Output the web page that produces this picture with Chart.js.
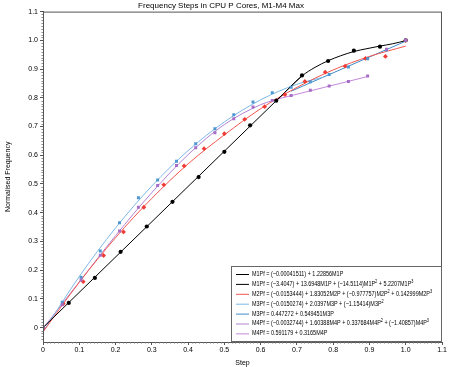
<!DOCTYPE html>
<html>
<head>
<meta charset="utf-8">
<script src="https://cdn.jsdelivr.net/npm/chart.js@4"></script>
<style>
  html, body { margin: 0; padding: 0; background: #fff; }
  #wrap { width: 449px; height: 367px; }
</style>
</head>
<body>
<div id="wrap"><canvas id="c"></canvas></div>
<script>
/* Frequency steps in CPU P cores, M1–M4 Max: measured steps + fitted curves. */

const FONT = "'Liberation Sans', Arial, sans-serif";

// measured steps (x = step / steps, y = freq / max freq)
const m1X = [0, 0.071, 0.143, 0.214, 0.286, 0.357, 0.429, 0.5, 0.571, 0.643, 0.714, 0.786, 0.857, 0.929, 1.0];
const m1Y = [0, 0.086, 0.173, 0.264, 0.352, 0.438, 0.524, 0.612, 0.704, 0.790, 0.878, 0.928, 0.964, 0.978, 1.0];

const m2X = [0, 0.056, 0.111, 0.167, 0.222, 0.278, 0.333, 0.389, 0.444, 0.5, 0.556, 0.611, 0.667, 0.722, 0.778, 0.833, 0.889, 0.944, 1.0];
const m2Y = [0, 0.083, 0.160, 0.251, 0.333, 0.419, 0.497, 0.563, 0.623, 0.675, 0.725, 0.769, 0.811, 0.857, 0.889, 0.910, 0.937, 0.944, 1.0];

const m3X = [0, 0.053, 0.105, 0.158, 0.211, 0.263, 0.316, 0.368, 0.421, 0.474, 0.526, 0.579, 0.632, 0.684, 0.737, 0.789, 0.842, 0.895, 0.947, 1.0];
const m3Y = [0, 0.088, 0.175, 0.267, 0.365, 0.452, 0.514, 0.579, 0.640, 0.692, 0.741, 0.785, 0.818, 0.837, 0.856, 0.881, 0.907, 0.936, 0.966, 1.0];

const m4X = m3X;
const m4Y = [0, 0.080, 0.166, 0.252, 0.336, 0.419, 0.495, 0.564, 0.626, 0.678, 0.727, 0.768, 0.791, 0.808, 0.826, 0.841, 0.857, 0.876, 0.969, 1.0];

// fitted curves
const m1LinX = [0, 0.714];
const m1LinY = [0, 0.877];
const m1CubX = [0.64, 0.714, 0.75, 0.786, 0.82, 0.857, 0.893, 0.929, 0.964, 1.0];
const m1CubY = [0.785, 0.876, 0.906, 0.929, 0.946, 0.961, 0.971, 0.980, 0.988, 0.999];
const m2FitX = [0, 0.1, 0.2, 0.3, 0.4, 0.5, 0.6, 0.7, 0.8, 0.9, 1.0];
const m2FitY = [-0.015, 0.158, 0.313, 0.450, 0.570, 0.671, 0.762, 0.836, 0.897, 0.944, 0.980];
const m3QuadX = [0, 0.1, 0.2, 0.3, 0.4, 0.5, 0.6, 0.7, 0.774];
const m3QuadY = [-0.015, 0.178, 0.347, 0.493, 0.616, 0.716, 0.793, 0.847, 0.872];
const m3LinX = [0.684, 1.0];
const m3LinY = [0.823, 0.997];
const m4CubX = [0, 0.1, 0.2, 0.3, 0.4, 0.5, 0.6, 0.632];
const m4CubY = [-0.003, 0.159, 0.320, 0.470, 0.602, 0.707, 0.776, 0.790];
const m4LinX = [0.632, 0.895];
const m4LinY = [0.791, 0.874];

// "^n" marks a superscript
const fitLabels = [
  "M1Pf = (\u22120.00041511) + 1.22856M1P",
  "M1Pf = (\u22123.4047) + 13.6948M1P + (\u221214.5114)M1P^2 + 5.2207M1P^3",
  "M2Pf = (\u22120.0153444) + 1.83052M2P + (\u22120.977757)M2P^2 + 0.142999M2P^3",
  "M3Pf = (\u22120.0150274) + 2.0397M3P + (\u22121.15414)M3P^2",
  "M3Pf = 0.447272 + 0.549451M3P",
  "M4Pf = (\u22120.0032744) + 1.60388M4P + 0.337684M4P^2 + (\u22121.40857)M4P^3",
  "M4Pf = 0.591179 + 0.3165M4P",
];

const xTicks = [0, 0.1, 0.2, 0.3, 0.4, 0.5, 0.6, 0.7, 0.8, 0.9, 1.0, 1.1];
const yTicks = [0, 0.1, 0.2, 0.3, 0.4, 0.5, 0.6, 0.7, 0.8, 0.9, 1.0, 1.1];

const C = {
  m1: "#000000",
  m2: "#ef3b36", m2line: "#f2564f",
  m3: "#4d97d1", m3quad: "#7db8e4", m3lin: "#3e8bc8",
  m4: "#a56dc6", m4cub: "#b183d2", m4lin: "#c487dc",
};

const pts = (xs, ys) => xs.map((x, i) => ({ x, y: ys[i] }));

function scatter(xs, ys, color, style, r) {
  return { type: "scatter", data: pts(xs, ys), showLine: false, pointStyle: style,
           pointRadius: r, pointBackgroundColor: color, pointBorderColor: color,
           pointBorderWidth: 0, fitLegend: false };
}
function fit(xs, ys, color, label) {
  return { type: "line", label, data: pts(xs, ys), borderColor: color, borderWidth: 1,
           pointRadius: 0, tension: 0, cubicInterpolationMode: "monotone", fill: false,
           fitLegend: true };
}

// text with ^n superscripts; returns width, draws if draw=true
function richText(ctx, s, x, y, size, draw) {
  let w = 0;
  const parts = s.split(/(\^\d)/);
  for (const p of parts) {
    if (!p) continue;
    const sup = p[0] === "^";
    const t = sup ? p.slice(1) : p;
    ctx.font = `${sup ? size * 0.7 : size}px ${FONT}`;
    if (draw) ctx.fillText(t, x + w, sup ? y - size * 0.35 : y);
    w += ctx.measureText(t).width;
  }
  return w;
}

/* ---------------- plugins: frame, minor ticks, legend box ---------------- */
const framePlugin = {
  id: "frame",
  afterDraw(chart) {
    const { ctx, chartArea: a, scales: { x, y } } = chart;
    ctx.save();
    ctx.strokeStyle = "#555"; ctx.lineWidth = 1;
    ctx.strokeRect(a.left + 0.5, a.top + 0.5, a.right - a.left - 1, a.bottom - a.top);
    // minor ticks every 0.01
    ctx.strokeStyle = "#777"; ctx.lineWidth = 0.8;
    ctx.beginPath();
    for (let i = 1; i < 110; i++) {
      if (i % 10 === 0) continue;
      const px = Math.round(x.getPixelForValue(i / 100)) + 0.5;
      ctx.moveTo(px, a.bottom); ctx.lineTo(px, a.bottom + 1.6);
    }
    for (let i = -4; i < 110; i++) {
      if (i % 10 === 0) continue;
      const py = Math.round(y.getPixelForValue(i / 100)) + 0.5;
      ctx.moveTo(a.left, py); ctx.lineTo(a.left - 1.6, py);
    }
    ctx.stroke();

    // legend box, bottom right inside the plot
    const fits = chart.data.datasets.filter(d => d.fitLegend);
    const bx = 231, by = 266, bw = a.right - bx, bh = a.bottom - by;
    ctx.fillStyle = "#fff";
    ctx.fillRect(bx, by, bw, bh);
    ctx.strokeStyle = "#666"; ctx.lineWidth = 1;
    ctx.strokeRect(bx + 0.5, by + 0.5, bw - 1, bh - 1);
    const size = 7;
    const maxW = Math.max(...fits.map(d => richText(ctx, d.label, 0, 0, size, false)));
    const sx = Math.min(1, 180 / maxW);
    ctx.textBaseline = "middle";
    fits.forEach((d, i) => {
      const ly = by + 8 + i * 9.9;
      ctx.strokeStyle = d.borderColor; ctx.lineWidth = 1;
      ctx.beginPath(); ctx.moveTo(bx + 5, ly + 0.5); ctx.lineTo(bx + 18, ly + 0.5); ctx.stroke();
      ctx.fillStyle = "#000";
      ctx.save();
      ctx.translate(bx + 21, ly);
      ctx.scale(sx, 1);
      richText(ctx, d.label, 0, 0, size, true);
      ctx.restore();
    });
    ctx.restore();
  },
};

const tickFont = { family: FONT, size: 7 };

new Chart(document.getElementById("c"), {
  data: {
    datasets: [
      scatter(m4X, m4Y, C.m4, "rect", 2.1),
      scatter(m3X, m3Y, C.m3, "rect", 2.1),
      scatter(m2X, m2Y, C.m2, "rectRot", 2.4),
      scatter(m1X, m1Y, C.m1, "circle", 2.1),
      fit(m1LinX, m1LinY, C.m1, fitLabels[0]),
      fit(m1CubX, m1CubY, C.m1, fitLabels[1]),
      fit(m2FitX, m2FitY, C.m2line, fitLabels[2]),
      fit(m3QuadX, m3QuadY, C.m3quad, fitLabels[3]),
      fit(m3LinX, m3LinY, C.m3lin, fitLabels[4]),
      fit(m4CubX, m4CubY, C.m4cub, fitLabels[5]),
      fit(m4LinX, m4LinY, C.m4lin, fitLabels[6]),
    ],
  },
  options: {
    responsive: true, maintainAspectRatio: false, animation: false,
    layout: { padding: { left: 0, right: 7, top: 0, bottom: 0 } },
    plugins: {
      legend: { display: false },
      tooltip: { enabled: false },
      title: { display: true, text: "Frequency Steps in CPU P Cores, M1-M4 Max",
               color: "#000", font: { family: FONT, size: 8, weight: "normal" },
               padding: { top: 1, bottom: 1 } },
    },
    scales: {
      x: {
        type: "linear", min: 0, max: 1.1,
        afterBuildTicks: ax => { ax.ticks = xTicks.map(v => ({ value: v })); },
        afterFit: ax => { ax.height = 25; },
        ticks: { color: "#000", font: tickFont, padding: 1, maxRotation: 0,
                 callback: v => v === 0 ? "0" : v.toFixed(1) },
        grid: { drawOnChartArea: false, tickLength: 3, color: "#555" },
        border: { color: "#555" },
        title: { display: true, text: "Step", color: "#000", font: tickFont, padding: { top: 1, bottom: 0 } },
      },
      y: {
        type: "linear", min: -0.05, max: 1.1,
        afterBuildTicks: ax => { ax.ticks = yTicks.map(v => ({ value: v })); },
        afterFit: ax => { ax.width = 43; },
        ticks: { color: "#000", font: tickFont, padding: 2,
                 callback: v => v === 0 ? "0" : v.toFixed(1) },
        grid: { drawOnChartArea: false, tickLength: 3, color: "#555" },
        border: { color: "#555" },
        title: { display: true, text: "Normalised Frequency", color: "#000", font: tickFont, padding: { top: 4, bottom: 6 } },
      },
    },
  },
  plugins: [framePlugin],
});
</script>
</body>
</html>
